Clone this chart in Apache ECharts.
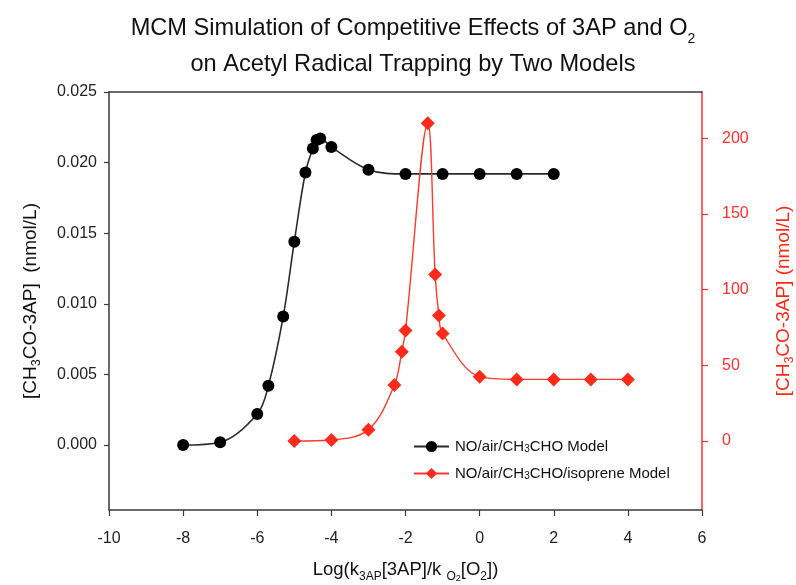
<!DOCTYPE html>
<html>
<head>
<meta charset="utf-8">
<script src="https://cdn.jsdelivr.net/npm/echarts@6/dist/echarts.min.js"></script>
<style>
html,body{margin:0;padding:0;background:#fff;}
#chart{width:796px;height:585px;}
</style>
</head>
<body>
<div id="chart"></div>
<script>
// Data
const blackX = [-8, -7, -6, -5.7, -5.3, -5, -4.7, -4.5, -4.4, -4.3, -4, -3, -2, -1, 0, 1, 2];
const blackY = [0, 0.0002, 0.0022, 0.0042, 0.0091, 0.0144, 0.0193, 0.0210, 0.0216, 0.0217, 0.0211, 0.0195, 0.0192, 0.0192, 0.0192, 0.0192, 0.0192];
const redX = [-5, -4, -3, -2.3, -2.1, -2, -1.4, -1.2, -1.1, -1, 0, 1, 2, 3, 4];
const redY = [0, 0.7, 7.5, 37, 59, 73, 210, 110, 83, 71, 42.5, 40.7, 40.7, 40.7, 40.7];
const leftTicks = [0, 0.005, 0.010, 0.015, 0.020, 0.025];
const rightTicks = [0, 50, 100, 150, 200];
const seriesNames = ['NO/air/CH3CHO Model', 'NO/air/CH3CHO/isoprene Model'];
const legendLabels = ['NO/air/CH{s|3}CHO Model', 'NO/air/CH{s|3}CHO/isoprene Model'];

const FONT = '"Liberation Sans", Arial, sans-serif';
const RED = '#ff2a1a';
const AXIS = '#3a3a3a';

const chart = echarts.init(document.getElementById('chart'), null, {renderer: 'canvas'});

const option = {
  backgroundColor: '#fff',
  animation: false,
  title: {
    text: '{t|MCM Simulation of Competitive Effects of 3AP and O}{ts|2}\n{t|on Acetyl Radical Trapping by Two Models}',
    left: 408,
    top: 5,
    textAlign: 'center',
    textStyle: {
      fontFamily: FONT,
      fontWeight: 'normal',
      color: '#111',
      rich: {
        t: {fontSize: 23.6, fontFamily: FONT, color: '#111', lineHeight: 36},
        ts: {fontSize: 14, fontFamily: FONT, color: '#111', lineHeight: 30, verticalAlign: 'bottom'}
      }
    }
  },
  grid: {left: 109, right: 94, top: 92, bottom: 75, containLabel: false, outerBoundsMode: 'none'},
  legend: {
    orient: 'vertical',
    left: 408,
    top: 434,
    itemWidth: 35,
    itemHeight: 14,
    itemGap: 12,
    data: seriesNames,
    formatter: (name) => legendLabels[seriesNames.indexOf(name)],
    textStyle: {
      fontFamily: FONT,
      fontSize: 15,
      color: '#111',
      padding: [0, 0, 0, 1],
      rich: {s: {fontSize: 10, fontFamily: FONT, color: '#111', verticalAlign: 'bottom', lineHeight: 14}}
    }
  },
  xAxis: [{
    type: 'value',
    min: -10,
    max: 6,
    interval: 2,
    position: 'bottom',
    name: 'Log(k{s|3AP}[3AP]/k {s|O}{ss|2}[O{s|2}])',
    nameLocation: 'middle',
    nameGap: 47,
    nameTextStyle: {
      fontFamily: FONT, fontSize: 18.5, color: '#111',
      rich: {
        s: {fontSize: 12, fontFamily: FONT, color: '#111', verticalAlign: 'bottom', lineHeight: 22},
        ss: {fontSize: 9, fontFamily: FONT, color: '#111', verticalAlign: 'bottom', lineHeight: 26}
      }
    },
    axisLine: {onZero: false, lineStyle: {color: AXIS, width: 1.5}},
    axisTick: {show: true, inside: false, length: 6, lineStyle: {color: AXIS, width: 1.2}},
    axisLabel: {fontFamily: FONT, fontSize: 16, color: '#222', margin: 21},
    splitLine: {show: false}
  }, {
    type: 'value',
    min: -10,
    max: 6,
    position: 'top',
    axisLine: {onZero: false, lineStyle: {color: AXIS, width: 1.5}},
    axisTick: {show: false},
    axisLabel: {show: false},
    splitLine: {show: false}
  }],
  yAxis: [{
    type: 'value',
    position: 'left',
    min: -0.0046,
    max: 0.025,
    name: '[CH{s|3}CO-3AP]  (nmol/L)',
    nameLocation: 'middle',
    nameRotate: 90,
    nameGap: 66,
    nameTextStyle: {
      fontFamily: FONT, fontSize: 19, color: '#111',
      rich: {s: {fontSize: 12.5, fontFamily: FONT, color: '#111', verticalAlign: 'bottom', lineHeight: 25}}
    },
    axisLine: {show: true, onZero: false, lineStyle: {color: AXIS, width: 1.5}},
    axisTick: {show: true, length: 5, customValues: leftTicks, lineStyle: {color: AXIS, width: 1.2}},
    axisLabel: {
      customValues: leftTicks,
      formatter: (v) => v.toFixed(3),
      fontFamily: FONT, fontSize: 16, color: '#222', margin: 12
    },
    splitLine: {show: false}
  }, {
    type: 'value',
    position: 'right',
    min: -45.6,
    max: 230.6,
    name: '[CH{s|3}CO-3AP] (nmol/L)',
    nameLocation: 'middle',
    nameRotate: 90,
    nameGap: 69,
    nameTextStyle: {
      fontFamily: FONT, fontSize: 19, color: RED,
      rich: {s: {fontSize: 12.5, fontFamily: FONT, color: RED, verticalAlign: 'bottom', lineHeight: 25}}
    },
    axisLine: {show: true, onZero: false, lineStyle: {color: '#ff3030', width: 1.5}},
    axisTick: {show: true, length: 6, customValues: rightTicks, lineStyle: {color: '#ff3030', width: 1.2}},
    axisLabel: {
      customValues: rightTicks,
      fontFamily: FONT, fontSize: 16, color: '#ff3030', margin: 20
    },
    splitLine: {show: false}
  }],
  series: [{
    name: seriesNames[0],
    type: 'line',
    xAxisIndex: 0,
    yAxisIndex: 0,
    data: blackX.map((x, i) => [x, blackY[i]]),
    smooth: 0.35,
    symbol: 'circle',
    symbolSize: 12,
    showSymbol: true,
    lineStyle: {color: '#2a2a2a', width: 1.6},
    itemStyle: {color: '#000', borderWidth: 0}
  }, {
    name: seriesNames[1],
    type: 'line',
    xAxisIndex: 0,
    yAxisIndex: 1,
    data: redX.map((x, i) => [x, redY[i]]),
    smooth: 0.35,
    symbol: 'diamond',
    symbolSize: 14,
    showSymbol: true,
    lineStyle: {color: '#ff3a2e', width: 1.4},
    itemStyle: {color: RED, borderWidth: 0}
  }]
};

chart.setOption(option);
</script>
</body>
</html>
